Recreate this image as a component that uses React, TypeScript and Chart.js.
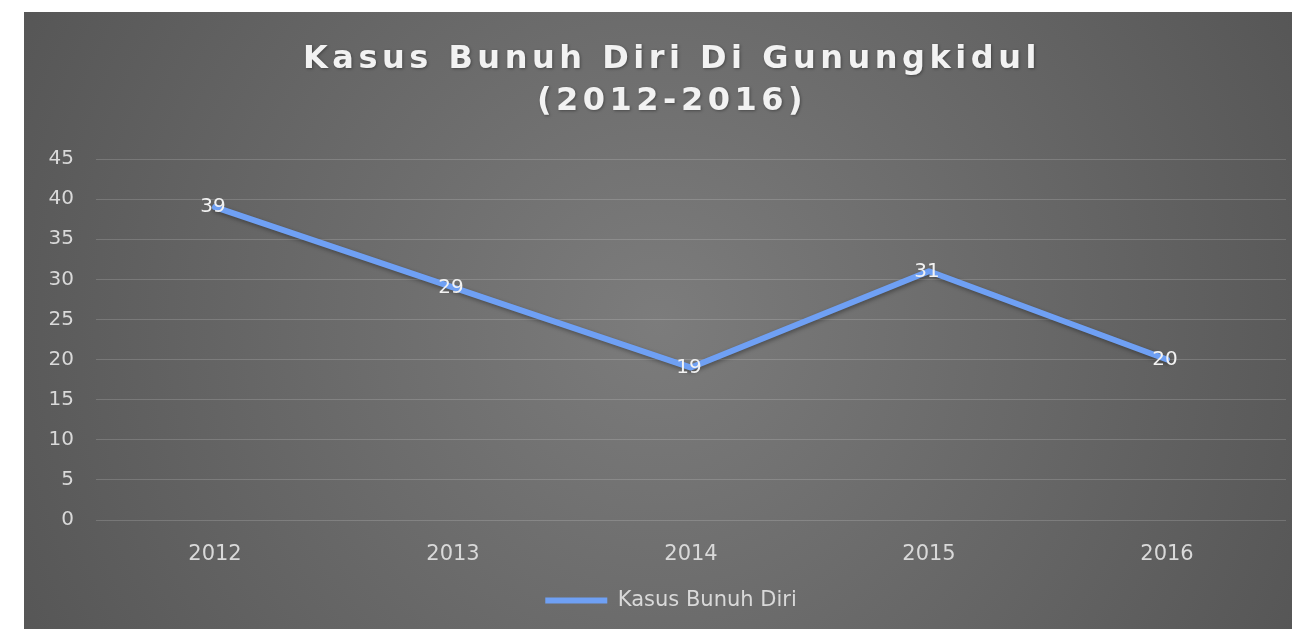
import React, { useEffect, useRef } from "react";
import { Chart, registerables } from "chart.js";

Chart.register(...registerables);

const categories = ["2012", "2013", "2014", "2015", "2016"];
const seriesName = "Kasus Bunuh Diri";
const seriesValues = [39, 29, 19, 31, 20];
const titleLines = ["Kasus Bunuh Diri Di Gunungkidul", "(2012-2016)"];
const yMin = 0;
const yMax = 45;
const yStep = 5;

const W = 1268;
const H = 617;
const FONT = "'DejaVu Sans', 'Open Sans', sans-serif";

const bgPlugin = {
  id: "bgGradient",
  beforeDraw(chart: any) {
    const { ctx, width, height } = chart;
    ctx.save();
    const g = ctx.createRadialGradient(width / 2, height / 2, 0, width / 2, height / 2, width * 0.62);
    g.addColorStop(0, "#7c7c7c");
    g.addColorStop(1, "#525252");
    ctx.fillStyle = g;
    ctx.fillRect(0, 0, width, height);
    ctx.restore();
  },
};

const legendShiftPlugin = {
  id: "legendShift",
  afterLayout(chart: any) {
    const lg = chart.legend;
    if (lg) lg.left += 32;
  },
};

const titlePlugin = {
  id: "spacedTitle",
  afterDraw(chart: any) {
    const { ctx } = chart;
    ctx.save();
    ctx.fillStyle = "#f2f2f2";
    ctx.font = "bold 32px " + FONT;
    ctx.textAlign = "center";
    ctx.textBaseline = "middle";
    (ctx as any).letterSpacing = "4.5px";
    ctx.shadowColor = "rgba(0,0,0,0.35)";
    ctx.shadowBlur = 3;
    ctx.shadowOffsetX = 1;
    ctx.shadowOffsetY = 1;
    const cx = 648;
    ctx.fillText(titleLines[0], cx, 48);
    ctx.fillText(titleLines[1], cx, 90);
    ctx.restore();
  },
};

const shadowPlugin = {
  id: "lineShadow",
  beforeDatasetDraw(chart: any) {
    const { ctx } = chart;
    ctx.save();
    ctx.shadowColor = "rgba(0,0,0,0.35)";
    ctx.shadowBlur = 4;
    ctx.shadowOffsetX = 1;
    ctx.shadowOffsetY = 2;
  },
  afterDatasetDraw(chart: any) {
    chart.ctx.restore();
  },
};

const labelPlugin = {
  id: "valueLabels",
  afterDatasetsDraw(chart: any) {
    const { ctx } = chart;
    const meta = chart.getDatasetMeta(0);
    const data = chart.data.datasets[0].data as number[];
    ctx.save();
    ctx.fillStyle = "#f2f2f2";
    ctx.font = "20px " + FONT;
    ctx.textAlign = "center";
    ctx.textBaseline = "middle";
    meta.data.forEach((pt: any, i: number) => {
      ctx.fillText(String(data[i]), pt.x - 2, pt.y);
    });
    ctx.restore();
  },
};

function LineChart() {
  const ref = useRef<HTMLCanvasElement | null>(null);
  useEffect(() => {
    if (!ref.current) return;
    const chart = new Chart(ref.current, {
      type: "line",
      data: {
        labels: categories,
        datasets: [
          {
            label: seriesName,
            data: seriesValues,
            borderColor: "#6fa0f4",
            backgroundColor: "#6fa0f4",
            borderWidth: 6,
            borderCapStyle: "round",
            borderJoinStyle: "round",
            pointRadius: 0,
            pointHoverRadius: 0,
            tension: 0,
          },
        ],
      },
      options: {
        animation: false,
        responsive: false,
        layout: { padding: { top: 147, right: 6, bottom: 8, left: 0 } },
        scales: {
          x: {
            offset: true,
            grid: { display: false, drawTicks: false },
            border: { display: false },
            ticks: { color: "#d9d9d9", font: { family: FONT, size: 21 }, padding: 22 },
            afterFit(scale: any) {
              scale.height = 60;
            },
          },
          y: {
            min: yMin,
            max: yMax,
            grid: { color: "rgba(255,255,255,0.16)", drawTicks: false, lineWidth: 1 },
            border: { display: false },
            ticks: { stepSize: yStep, color: "#d9d9d9", font: { family: FONT, size: 20 }, padding: 22 },
            afterFit(scale: any) {
              scale.width = 72;
            },
          },
        },
        plugins: {
          title: { display: false },
          tooltip: { enabled: false },
          legend: {
            position: "bottom",
            labels: {
              usePointStyle: true,
              pointStyle: "line",
              pointStyleWidth: 62,
              color: "#d9d9d9",
              font: { family: FONT, size: 21 },
              padding: 10,
            },
          },
        },
      },
      plugins: [bgPlugin, legendShiftPlugin, titlePlugin, shadowPlugin, labelPlugin],
    } as any);
    return () => chart.destroy();
  }, []);
  return <canvas ref={ref} width={W} height={H} style={{ display: "block", width: W, height: H }} />;
}

export default function App() {
  return (
    <div style={{ position: "absolute", left: 24, top: 12, width: W, height: H }}>
      <LineChart />
    </div>
  );
}
